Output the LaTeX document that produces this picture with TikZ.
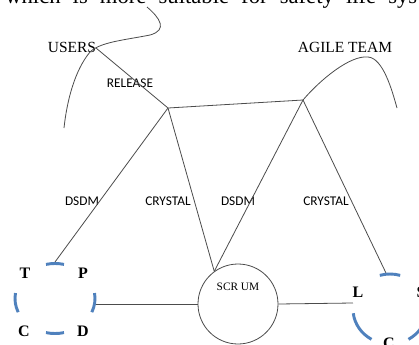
\documentclass[tikz,border=0pt]{standalone}
\usepackage{fontspec}
\setmainfont{Liberation Serif}
\newfontfamily\calib{Carlito}
\definecolor{dashblue}{RGB}{79,129,189}
\tikzset{
  ln/.style={draw=black!70, line width=0.6pt},
  seriflbl/.style={font=\fontsize{11.6}{13}\selectfont, inner sep=0pt},
  sanslbl/.style={font=\calib\fontsize{10}{12}\selectfont, inner sep=0pt},
  letter/.style={font=\bfseries\fontsize{12}{14}\selectfont, inner sep=0pt},
  bluedash/.style={draw=dashblue, line width=2.2pt},
  scrumc/.style={draw=black!70, line width=0.6pt, circle, minimum size=60pt, inner sep=0pt},
}
\begin{document}
\begin{tikzpicture}[x=0.75pt, y=-0.75pt]
\clip (0,0) rectangle (419,344);
\fill[white] (0,0) rectangle (419,344);
% clipped running text at top
\node[anchor=base west, inner sep=0pt, font=\fontsize{17}{20}\selectfont] (toptext) at (5,3.5)
  {\makebox[309pt][s]{which is more suitable for safety life sys}};
% junctions
\coordinate (A) at (168,108);
\coordinate (B) at (303,100);
\coordinate (uend) at (96,48);
\coordinate (ltop) at (55,262);
\coordinate (lright) at (95,304);
\coordinate (rtop) at (386,273);
\coordinate (rleft) at (353,303);
\coordinate (lc) at (55,298.5);
\coordinate (rc) at (390,309);
% labels
\node[seriflbl] (users) at (72,47.5) {USERS};
\node[seriflbl] (agile) at (345,47.5) {AGILE TEAM};
\node[sanslbl] (release) at (130,83.5) {RELEASE};
\node[sanslbl] (dsdm1) at (82,201) {DSDM};
\node[sanslbl] (crys1) at (168,201) {CRYSTAL};
\node[sanslbl] (dsdm2) at (238,201) {DSDM};
\node[sanslbl] (crys2) at (326,201) {CRYSTAL};
% scrum
\node[scrumc] (scrum) at (238,304) {};
\node[inner sep=0pt, font=\fontsize{8.5}{10}\selectfont] (scrumlbl) at (238,287) {SCR UM};
% curves
\draw[ln] (147,7) .. controls (160,18) and (168,30) .. (150,35)
  .. controls (125,40) and (100,42) .. (90,52)
  .. controls (75,70) and (67,100) .. (64,128);
\draw[ln] (B) .. controls (320,80) and (350,55) .. (368,57)
  .. controls (383,58) and (392,90) .. (397,108);
% connectors
\draw[ln] (uend) -- (A) -- (B);
\draw[ln] (A) -- (ltop);
\draw[ln] (A) -- (scrum.126);
\draw[ln] (B) -- (scrum.126);
\draw[ln] (B) -- (rtop);
\draw[ln] (lright) -- (scrum.west);
\draw[ln] (scrum.east) -- (rleft);
% left dashed ring
\draw[bluedash] (lc) ++(257:40 and 35) arc[start angle=257, end angle=283, x radius=40, y radius=35];
\draw[bluedash] (lc) ++(77:40 and 35) arc[start angle=77, end angle=103, x radius=40, y radius=35];
\draw[bluedash] (lc) ++(157:40 and 35) arc[start angle=157, end angle=189, x radius=40, y radius=35];
\draw[bluedash] (lc) ++(-9:40 and 35) arc[start angle=-9, end angle=23, x radius=40, y radius=35];
\node[letter] (T) at (25,273) {T};
\node[letter] (P) at (83,273) {P};
\node[letter] (C) at (24,331) {C};
\node[letter] (D) at (83,331) {D};
% right dashed ring
\draw[bluedash] (rc) ++(254:37 and 35) arc[start angle=254, end angle=286, x radius=37, y radius=35];
\draw[bluedash] (rc) ++(120:37 and 35) arc[start angle=120, end angle=173, x radius=37, y radius=35];
\draw[bluedash] (rc) ++(7:37 and 35) arc[start angle=7, end angle=60, x radius=37, y radius=35];
\node[letter] (L) at (358,292) {L};
\node[letter] (S) at (421,292) {S};
\node[letter] (C2) at (389,343) {C};
\end{tikzpicture}
\end{document}
